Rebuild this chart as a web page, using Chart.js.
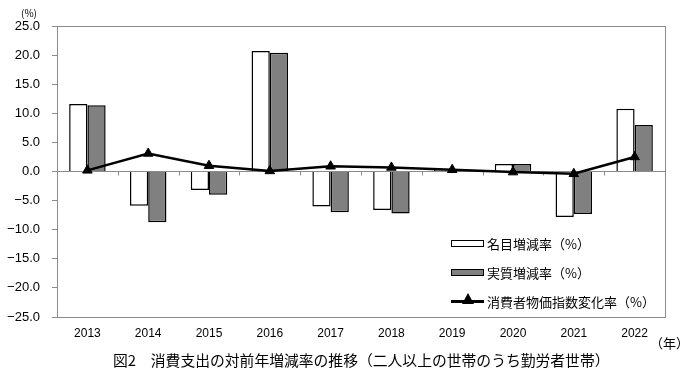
<!DOCTYPE html>
<html>
<head>
<meta charset="utf-8">
<script src="https://cdn.jsdelivr.net/npm/chart.js@4/dist/chart.umd.min.js"></script>
<style>
  body { margin: 0; background: #fff; }
  #wrap { position: relative; width: 695px; height: 376px; }
  #chart { position: absolute; left: 0; top: 0; }
  .note { position: absolute; font-family: "Noto Sans CJK JP", sans-serif; color: #000; white-space: nowrap; }
  #legend { position: absolute; left: 451px; top: 229px; font-family: "Noto Sans CJK JP", sans-serif; font-size: 13px; }
  .item { display: flex; align-items: center; height: 29px; }
  .sym { width: 33px; height: 7px; box-sizing: border-box; margin-right: 3px; position: relative; }
  .nominal { background: #fff; border: 1.5px solid #000; }
  .real { background: #808080; border: 1.5px solid #000; }
  .cpi { height: 3px; background: #000; }
  .cpi::after { content: ""; position: absolute; left: 11px; top: -7px; border-left: 6px solid transparent; border-right: 6px solid transparent; border-bottom: 11px solid #000; }
</style>
</head>
<body>
<div id="wrap">
  <canvas id="chart" width="695" height="376"></canvas>
  <div class="note" style="left:21px; top:5px; font-size:10px;">(%)</div>
  <div class="note" style="left:650px; top:333px; font-size:13px;">（年）</div>
  <div class="note" style="left:113px; top:349px; font-size:14.8px; line-height:21px;">図2　消費支出の対前年増減率の推移（二人以上の世帯のうち勤労者世帯）</div>
  <div id="legend">
    <div class="item"><div class="sym nominal"></div><span>名目増減率（%）</span></div>
    <div class="item"><div class="sym real"></div><span>実質増減率（%）</span></div>
    <div class="item"><div class="sym cpi"></div><span>消費者物価指数変化率（%）</span></div>
  </div>
</div>
<script>
// Data
const years = ['2013', '2014', '2015', '2016', '2017', '2018', '2019', '2020', '2021', '2022'];
const nominalRate = [11.6, -5.9, -3.2, 20.7, -6.0, -6.6, 0.3, 1.3, -7.8, 10.8];
const realRate = [11.4, -8.7, -4.0, 20.4, -7.0, -7.2, 0.1, 1.3, -7.3, 8.0];
const cpiRate = [0.2, 3.1, 1.0, 0.1, 0.9, 0.7, 0.3, -0.1, -0.4, 2.5];
const yTicks = [25, 20, 15, 10, 5, 0, -5, -10, -15, -20, -25];

const frameColor = '#8c8c8c';

// Frame around plot area and small ticks on the zero line
const framePlugin = {
    id: 'frame',
    beforeDatasetsDraw(chart) {
        const { ctx, chartArea, scales } = chart;
        const x = scales.x, y = scales.y;
        const y0 = y.getPixelForValue(0);
        ctx.save();
        ctx.strokeStyle = frameColor;
        ctx.lineWidth = 1;
        ctx.beginPath();
        for (let i = 0; i <= years.length; i++) {
            let px;
            if (i === 0) px = chartArea.left;
            else if (i === years.length) px = chartArea.right;
            else px = (x.getPixelForValue(i - 1) + x.getPixelForValue(i)) / 2;
            px = Math.round(px) + 0.5;
            ctx.moveTo(px, y0);
            ctx.lineTo(px, y0 + 4);
        }
        ctx.stroke();
        ctx.strokeRect(Math.round(chartArea.left) + 0.5, Math.round(chartArea.top) + 0.5,
            Math.round(chartArea.right - chartArea.left), Math.round(chartArea.bottom - chartArea.top));
        ctx.restore();
    }
};

new Chart(document.getElementById('chart'), {
    data: {
        labels: years,
        datasets: [
            {
                type: 'line',
                label: '消費者物価指数変化率（%）',
                data: cpiRate,
                borderColor: '#000',
                backgroundColor: '#000',
                borderWidth: 2.5,
                pointStyle: 'triangle',
                pointRadius: 5.5,
                pointBorderWidth: 1,
                tension: 0,
                order: 0
            },
            {
                type: 'bar',
                label: '名目増減率（%）',
                data: nominalRate,
                backgroundColor: '#ffffff',
                borderColor: '#000',
                borderWidth: 1.5,
                categoryPercentage: 0.6,
                barPercentage: 1.0,
                order: 1
            },
            {
                type: 'bar',
                label: '実質増減率（%）',
                data: realRate,
                backgroundColor: '#808080',
                borderColor: '#000',
                borderWidth: 1.5,
                categoryPercentage: 0.6,
                barPercentage: 1.0,
                order: 1
            }
        ]
    },
    options: {
        responsive: false,
        animation: false,
        layout: { padding: { top: 26, right: 30, left: 0, bottom: 27 } },
        plugins: {
            legend: { display: false },
            tooltip: { enabled: false },
            title: { display: false }
        },
        scales: {
            x: {
                grid: { display: false, drawTicks: false },
                border: { display: false },
                ticks: {
                    color: '#000',
                    padding: 9,
                    font: { family: '"Liberation Sans", Arial, sans-serif', size: 12 }
                },
                afterFit(scale) { scale.height = 32; }
            },
            y: {
                min: -25,
                max: 25,
                afterBuildTicks(scale) { scale.ticks = yTicks.map(v => ({ value: v })); },
                grid: {
                    color: ctx => (ctx.tick && ctx.tick.value === 0) ? frameColor : 'transparent',
                    tickColor: frameColor,
                    tickLength: 5,
                    drawOnChartArea: true
                },
                border: { display: true, color: frameColor },
                ticks: {
                    color: '#000',
                    padding: 12,
                    font: { family: '"Liberation Sans", Arial, sans-serif', size: 13 },
                    callback: v => v.toFixed(1).replace('-', '−')
                },
                afterFit(scale) { scale.width = 57; }
            }
        }
    },
    plugins: [framePlugin]
});
</script>
</body>
</html>
